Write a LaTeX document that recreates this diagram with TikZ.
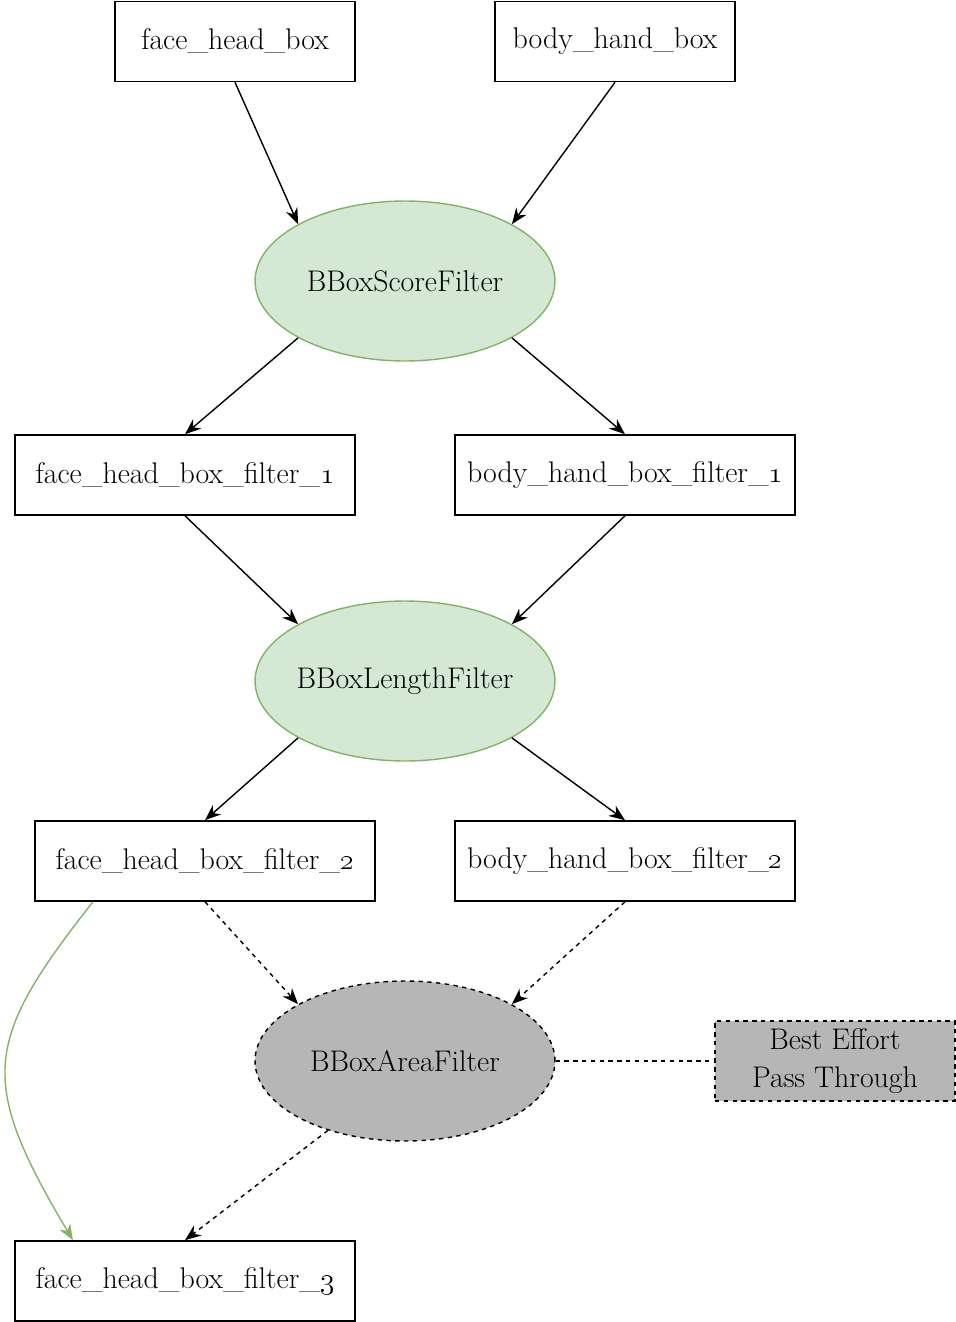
\documentclass[tikz,border=0pt]{standalone}
\usetikzlibrary{shapes.geometric}
\usetikzlibrary{arrows.meta}
\definecolor{leafgreen}{HTML}{82B366}
\definecolor{leaffill}{HTML}{D5E8D4}
\definecolor{passgray}{HTML}{B6B6B6}
\newcommand{\osn}[1]{\oldstylenums{#1}}
\newcommand{\filtname}[1]{\makebox[3cm]{#1}}

\begin{document}
\begin{tikzpicture}[x=0.02cm,y=-0.02cm,
  every node/.style={font=\fontsize{17}{22}\selectfont},
  box/.style={draw,line width=0.9pt,minimum width=4.8cm,minimum height=1.6cm,inner sep=0pt},
  widebox/.style={box,minimum width=6.8cm},
  filt/.style={ellipse,draw=leafgreen,fill=leaffill,line width=0.8pt,minimum width=6cm,minimum height=3.2cm,inner sep=0pt},
  grayfilt/.style={filt,draw=black,fill=passgray,dash pattern=on 2.5pt off 2.5pt},
  arr/.style={-{Stealth[length=3.2mm,width=2.5mm]},line width=0.8pt},
  darr/.style={arr,dash pattern=on 2.5pt off 2.5pt}]
\useasboundingbox (0,0) rectangle (956,1322);
\node[box] (fhb) at (235,41.5) {face\_head\_box};
\node[box] (bhb) at (615,41.5) {body\_hand\_box};
\node[filt] (score) at (405,281) {\filtname{BBoxScoreFilter}};
\node[widebox] (fh1) at (185,475) {face\_head\_box\_filter\_\osn{1}};
\node[widebox] (bh1) at (625,475) {body\_hand\_box\_filter\_\osn{1}};
\node[filt] (length) at (405,681) {\filtname{BBoxLengthFilter}};
\node[widebox] (fh2) at (205,861) {face\_head\_box\_filter\_\osn{2}};
\node[widebox] (bh2) at (625,861) {body\_hand\_box\_filter\_\osn{2}};
\node[grayfilt] (area) at (405,1061) {\filtname{BBoxAreaFilter}};
\node[box,fill=passgray,dash pattern=on 2.5pt off 2.5pt,align=center] (pass) at (835,1061) {Best Effort\\Pass Through};
\node[widebox] (fh3) at (185,1281) {face\_head\_box\_filter\_\osn{3}};
\draw[arr] (fhb.south) -- (score.152);
\draw[arr] (bhb.south) -- (score.28);
\draw[arr] (score.208) -- (fh1.north);
\draw[arr] (score.332) -- (bh1.north);
\draw[arr] (fh1.south) -- (length.152);
\draw[arr] (bh1.south) -- (length.28);
\draw[arr] (length.208) -- (fh2.north);
\draw[arr] (length.332) -- (bh2.north);
\draw[darr] (fh2.south) -- (area.152);
\draw[darr] (bh2.south) -- (area.28);
\draw[darr] (area.222) -- (fh3.north);
\draw[line width=0.8pt,dash pattern=on 2.5pt off 2.5pt] (area.east) -- (pass.west);
\draw[arr,leafgreen] (fh2.200) .. controls +(-110,140) and +(-95,-160) .. (fh3.160);
\end{tikzpicture}
\end{document}
